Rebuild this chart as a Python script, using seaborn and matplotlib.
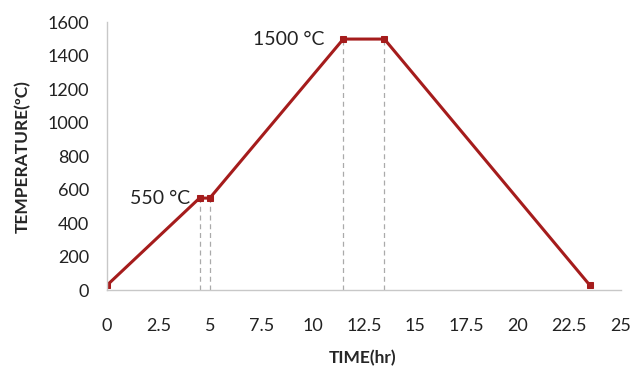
import matplotlib
matplotlib.use("Agg")
import matplotlib.pyplot as plt
import seaborn as sns
import pandas as pd

# firing schedule
time_hr = [0, 4.5, 5, 11.5, 13.5, 23.5]
temp_c = [30, 550, 550, 1500, 1500, 30]
hold_times = [4.5, 5, 11.5, 13.5]
hold_temps = [550, 550, 1500, 1500]
x_ticks = [0, 2.5, 5, 7.5, 10, 12.5, 15, 17.5, 20, 22.5, 25]
x_tick_labels = ["0", "2.5", "5", "7.5", "10", "12.5", "15", "17.5", "20", "22.5", "25"]
y_ticks = [0, 200, 400, 600, 800, 1000, 1200, 1400, 1600]

df = pd.DataFrame({"time": time_hr, "temp": temp_c})

sns.set_style("white")
plt.rcParams["font.family"] = ["Lato", "DejaVu Sans"]

fig = plt.figure(figsize=(6.3, 3.72), dpi=100)
ax = fig.add_axes([0.17, 0.22, 0.815, 0.72])

line_color = "#a51c1c"

# dashed guides under the hold segments
ax.vlines(hold_times, 0, hold_temps, colors="#aaaaaa", linestyles=(0, (4, 3)), linewidth=0.9)

sns.lineplot(data=df, x="time", y="temp", ax=ax, color=line_color, linewidth=2.2,
             marker="s", markersize=5, markeredgecolor=line_color)

ax.text(4.05, 550, "550 °C", ha="right", va="center", fontsize=14, color="#222222")
ax.text(10.6, 1500, "1500 °C", ha="right", va="center", fontsize=14, color="#222222")

ax.set_xlim(0, 25)
ax.set_ylim(0, 1600)
ax.set_xticks(x_ticks)
ax.set_xticklabels(x_tick_labels)
ax.set_yticks(y_ticks)
ax.tick_params(axis="x", length=0, pad=20, labelsize=13, labelcolor="#222222")
ax.tick_params(axis="y", length=0, pad=13, labelsize=13, labelcolor="#222222")

ax.set_xlabel("TIME(hr)", fontsize=12.5, fontweight="bold")
ax.set_ylabel("TEMPERATURE(ºC)", fontsize=12.5, fontweight="bold")
ax.xaxis.set_label_coords(0.497, -0.225)
ax.yaxis.set_label_coords(-0.148, 0.5)

for side in ["top", "right"]:
    ax.spines[side].set_visible(False)
for side in ["left", "bottom"]:
    ax.spines[side].set_color("#c8c8c8")
    ax.spines[side].set_linewidth(1.0)

fig.savefig("out.png", dpi=100)
